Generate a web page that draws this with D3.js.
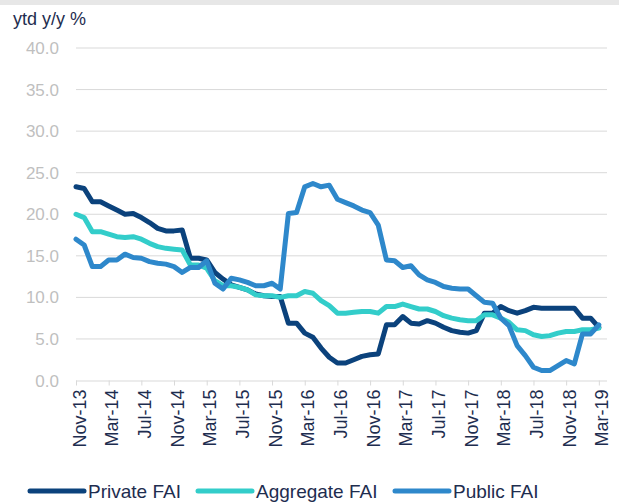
<!DOCTYPE html>
<html>
<head>
<meta charset="utf-8">
<script src="https://d3js.org/d3.v7.min.js"></script>
<style>
  body { margin:0; background:#fff; }
  text { font-family: "Liberation Sans", Arial, sans-serif; }
</style>
</head>
<body>
<script>
// monthly ytd y/y %, Nov-13 .. Mar-19
var months = d3.timeMonth.range(new Date(2013, 10, 1), new Date(2019, 3, 1));

var tickLabels = ["Nov-13","Mar-14","Jul-14","Nov-14","Mar-15","Jul-15","Nov-15","Mar-16",
  "Jul-16","Nov-16","Mar-17","Jul-17","Nov-17","Mar-18","Jul-18","Nov-18","Mar-19"];

var yTicks = [0, 5, 10, 15, 20, 25, 30, 35, 40];

var privateFAI = [23.3, 23.1, 21.5, 21.5, 21.0, 20.5, 20.0, 20.1, 19.6, 19.0, 18.3, 18.0, 18.0, 18.1,
  14.7, 14.7, 14.5, 13.0, 12.2, 11.5, 11.2, 10.9, 10.4, 10.2, 10.1, 10.1,
  6.9, 6.9, 5.7, 5.2, 3.9, 2.8, 2.1, 2.1, 2.5, 2.9, 3.1, 3.2,
  6.7, 6.7, 7.7, 6.9, 6.8, 7.2, 6.9, 6.4, 6.0, 5.8, 5.7, 6.0,
  8.1, 8.1, 8.9, 8.4, 8.1, 8.4, 8.8, 8.7, 8.7, 8.7, 8.7, 8.7,
  7.5, 7.5, 6.4];

var aggregateFAI = [20.0, 19.6, 17.9, 17.9, 17.6, 17.3, 17.2, 17.3, 17.0, 16.5, 16.1, 15.9, 15.8, 15.7,
  13.9, 13.9, 13.5, 12.0, 11.4, 11.4, 11.2, 10.9, 10.3, 10.2, 10.2, 10.0,
  10.2, 10.2, 10.7, 10.5, 9.6, 9.0, 8.1, 8.1, 8.2, 8.3, 8.3, 8.1,
  8.9, 8.9, 9.2, 8.9, 8.6, 8.6, 8.3, 7.8, 7.5, 7.3, 7.2, 7.2,
  7.9, 7.9, 7.5, 7.0, 6.1, 6.0, 5.5, 5.3, 5.4, 5.7, 5.9, 5.9,
  6.1, 6.1, 6.3];

var publicFAI = [17.0, 16.3, 13.7, 13.7, 14.5, 14.5, 15.2, 14.8, 14.7, 14.3, 14.1, 14.0, 13.7, 13.0,
  13.6, 13.6, 14.4, 11.7, 11.0, 12.3, 12.1, 11.8, 11.4, 11.4, 11.7, 11.0,
  20.1, 20.2, 23.3, 23.7, 23.3, 23.5, 21.8, 21.4, 21.0, 20.5, 20.2, 18.7,
  14.5, 14.4, 13.6, 13.8, 12.7, 12.1, 11.8, 11.3, 11.1, 11.0, 11.0, 10.2,
  9.4, 9.3, 7.5, 6.6, 4.2, 3.0, 1.6, 1.2, 1.2, 1.8, 2.4, 2.0,
  5.6, 5.6, 6.7];

var seriesNames = ["Private FAI", "Aggregate FAI", "Public FAI"];
var seriesColors = ["#0b427c", "#33cdca", "#2e88cb"];
var seriesData = [privateFAI, aggregateFAI, publicFAI];

var width = 619, height = 503;
var navy = "#1e2d4f";

var svg = d3.select("body").append("svg")
  .attr("width", width)
  .attr("height", height);

// thin grey strip at the very top
svg.append("rect")
  .attr("x", 0).attr("y", 0)
  .attr("width", width).attr("height", 5)
  .attr("fill", "#e7e7e7");

var x = d3.scaleLinear()
  .domain([0, months.length])   // axis runs one month past the last point
  .range([76, 607]);

var y = d3.scaleLinear()
  .domain([0, 40])
  .range([380.5, 48]);

// gridlines
svg.append("g")
  .selectAll("line")
  .data(yTicks.filter(function(d){ return d > 0; }))
  .enter().append("line")
  .attr("x1", x.range()[0]).attr("x2", x.range()[1])
  .attr("y1", function(d){ return y(d); })
  .attr("y2", function(d){ return y(d); })
  .attr("stroke", "#d9d9d9")
  .attr("stroke-width", 1);

// y labels
svg.append("g")
  .selectAll("text")
  .data(yTicks)
  .enter().append("text")
  .attr("x", 59)
  .attr("y", function(d){ return y(d); })
  .attr("dy", "0.36em")
  .attr("text-anchor", "end")
  .attr("font-size", "17px")
  .attr("fill", "#bfbfbf")
  .text(function(d){ return d3.format(".1f")(d); });

// x axis
var xAxis = d3.axisBottom(x)
  .tickValues(d3.range(0, months.length, 4))
  .tickSize(5)
  .tickFormat(function(d, i){ return tickLabels[i]; });

var gx = svg.append("g")
  .attr("transform", "translate(0," + y(0) + ")")
  .call(xAxis);

gx.select(".domain").attr("stroke", "#d9d9d9").attr("d", "M" + x.range()[0] + ",0.5H" + x.range()[1]);
gx.selectAll(".tick line").attr("stroke", "#d9d9d9");
gx.selectAll(".tick text")
  .attr("font-size", "18px")
  .attr("font-family", "Liberation Sans, Arial, sans-serif")
  .attr("fill", navy)
  .attr("text-anchor", "end")
  .attr("transform", "translate(9,9) rotate(-90)")
  .attr("x", 0).attr("y", 0).attr("dy", 0);

// lines
var line = d3.line()
  .x(function(d, i){ return x(i); })
  .y(function(d){ return y(d); });

svg.append("g")
  .selectAll("path")
  .data(seriesData)
  .enter().append("path")
  .attr("d", line)
  .attr("fill", "none")
  .attr("stroke", function(d, i){ return seriesColors[i]; })
  .attr("stroke-width", 5)
  .attr("stroke-linejoin", "round")
  .attr("stroke-linecap", "round");

// y axis title
svg.append("text")
  .attr("x", 13)
  .attr("y", 25)
  .attr("font-size", "18px")
  .attr("fill", navy)
  .text("ytd y/y %");

// legend
var legendX = [30, 198, 395];
var lg = svg.append("g").selectAll("g")
  .data(seriesNames)
  .enter().append("g")
  .attr("transform", function(d, i){ return "translate(" + legendX[i] + ",491)"; });

lg.append("line")
  .attr("x1", 0).attr("x2", 54)
  .attr("stroke", function(d, i){ return seriesColors[i]; })
  .attr("stroke-width", 5)
  .attr("stroke-linecap", "round");

lg.append("text")
  .attr("x", 58)
  .attr("dy", "0.36em")
  .attr("font-size", "19px")
  .attr("fill", navy)
  .text(function(d){ return d; });
</script>
</body>
</html>
